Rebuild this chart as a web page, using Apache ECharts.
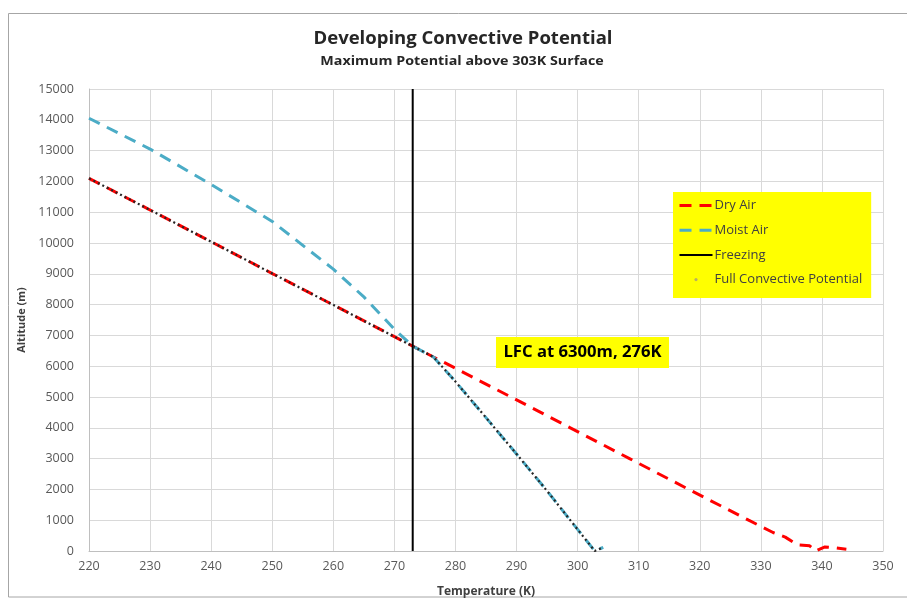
<!DOCTYPE html>
<html>
<head>
<meta charset="utf-8">
<script src="https://cdn.jsdelivr.net/npm/echarts@6/dist/echarts.min.js"></script>
<style>
  html, body { margin: 0; padding: 0; background: #ffffff; }
  #chart { width: 907px; height: 599px; }
</style>
</head>
<body>
<div id="chart"></div>
<script>
// Dry adiabat from the surface parcel (temperature in K, altitude in m)
const dryTemp = [220.0, 230.7, 240.4, 250.1, 259.9, 269.6, 273.0, 276.4, 289.1, 298.8, 308.5, 318.2, 328.0, 332.0, 334.0, 336.0, 338.0, 339.0, 340.5, 342.0, 344.0];
const dryAlt  = [12100, 11000, 10000, 9000, 8000, 7000, 6650, 6300, 5000, 4000, 3000, 2000, 1000, 600, 450, 200, 170, 0, 130, 110, 60];

// Moist (saturated) adiabat
const moistTemp = [220, 230, 240, 250, 260, 265, 270, 273, 276.4, 280, 285, 290, 295, 300, 302.8, 304.2];
const moistAlt  = [14050, 13050, 11900, 10700, 9150, 8250, 7200, 6650, 6300, 5500, 4330, 3150, 1950, 700, 0, 120];

// Freezing level marker
const freezeTemp = [273, 273];
const freezeAlt  = [0, 15000];

// Full convective path: moist below the LFC, dry above it
const fullTemp = [220.0, 230.7, 240.4, 250.1, 259.9, 269.6, 273.0, 276.4, 280, 285, 290, 295, 300, 302.8, 304.2];
const fullAlt  = [12100, 11000, 10000, 9000, 8000, 7000, 6650, 6300, 5500, 4330, 3150, 1950, 700, 0, 120];

// Axis ticks
const xTicks = { min: 220, max: 350, step: 10 };
const yTicks = { min: 0, max: 15000, step: 1000 };

const seriesNames = ['Dry Air', 'Moist Air', 'Freezing', 'Full Convective Potential'];

const pairs = (xs, ys) => xs.map((x, i) => [x, ys[i]]);

const labelFont = '"Open Sans", "Noto Sans", sans-serif';

const chart = echarts.init(document.getElementById('chart'), null, { renderer: 'canvas' });

chart.setOption({
  animation: false,
  backgroundColor: '#ffffff',
  grid: { left: 89, right: 24, top: 89, bottom: 48, containLabel: false, outerBoundsMode: 'none' },
  xAxis: {
    type: 'value',
    min: xTicks.min, max: xTicks.max, interval: xTicks.step,
    name: 'Temperature (K)',
    nameLocation: 'middle',
    nameGap: 35,
    nameTextStyle: { fontFamily: labelFont, fontWeight: 'bold', fontSize: 12, color: '#404040' },
    axisLine: { show: true, lineStyle: { color: '#bfbfbf', width: 1 } },
    axisTick: { show: false },
    axisLabel: { fontFamily: labelFont, fontSize: 12.5, color: '#595959', margin: 9, formatter: v => String(v) },
    splitLine: { show: true, lineStyle: { color: '#d9d9d9', width: 1 } }
  },
  yAxis: {
    type: 'value',
    min: yTicks.min, max: yTicks.max, interval: yTicks.step,
    name: 'Altitude (m)',
    nameLocation: 'middle',
    nameGap: 62,
    nameRotate: 90,
    nameTextStyle: { fontFamily: labelFont, fontWeight: 'bold', fontSize: 11, color: '#404040' },
    axisLine: { show: true, lineStyle: { color: '#bfbfbf', width: 1 } },
    axisTick: { show: false },
    axisLabel: { fontFamily: labelFont, fontSize: 12.5, color: '#595959', margin: 15, formatter: v => String(v) },
    splitLine: { show: true, lineStyle: { color: '#d9d9d9', width: 1 } }
  },
  legend: {
    orient: 'vertical',
    left: 673, top: 192,
    padding: [6, 9, 11, 5],
    backgroundColor: '#ffff00',
    itemWidth: 33, itemHeight: 4, itemGap: 9.7,
    textStyle: { fontFamily: labelFont, fontSize: 13, color: '#404040', lineHeight: 15, padding: [0, 0, 0, -3] },
    data: [
      { name: seriesNames[0], itemStyle: { opacity: 0 }, lineStyle: { width: 3 } },
      { name: seriesNames[1], itemStyle: { opacity: 0 }, lineStyle: { width: 3 } },
      { name: seriesNames[2], itemStyle: { opacity: 0 }, lineStyle: { width: 2 } },
      { name: seriesNames[3], itemStyle: { color: '#b8b060' }, lineStyle: { opacity: 0 } }
    ]
  },
  series: [
    {
      name: seriesNames[0], type: 'line', data: pairs(dryTemp, dryAlt),
      symbol: 'none', color: '#ff0000',
      lineStyle: { color: '#ff0000', width: 3, type: [12, 8] }, z: 2
    },
    {
      name: seriesNames[1], type: 'line', data: pairs(moistTemp, moistAlt),
      symbol: 'none', color: '#4bacc6',
      lineStyle: { color: '#4bacc6', width: 3, type: [12, 8] }, z: 3
    },
    {
      name: seriesNames[2], type: 'line', data: pairs(freezeTemp, freezeAlt),
      symbol: 'none', color: '#000000',
      lineStyle: { color: '#000000', width: 2 }, z: 4
    },
    {
      name: seriesNames[3], type: 'line', data: pairs(fullTemp, fullAlt),
      symbol: 'none', color: '#262626',
      lineStyle: { color: '#262626', width: 2.2, type: [2, 3] }, z: 5
    }
  ],
  graphic: [
    {
      type: 'rect', silent: true, z: -10,
      shape: { x: 8.5, y: 13.5, width: 920, height: 583.5 },
      style: { fill: 'none', stroke: '#a6a6a6', lineWidth: 1 }
    },
    {
      type: 'text', x: 463, y: 38.5, silent: true,
      style: { text: 'Developing Convective Potential', fontFamily: labelFont, fontWeight: 'bold', fontSize: 18.5,
               fill: '#262626', align: 'center', verticalAlign: 'middle' }
    },
    {
      type: 'text', x: 462, y: 61, scaleX: 1.1, silent: true,
      style: { text: 'Maximum Potential above 303K Surface', fontFamily: labelFont, fontWeight: 'bold', fontSize: 13,
               fill: '#262626', align: 'center', verticalAlign: 'middle' }
    },
    // LFC annotation box, drawn above the grid lines
    {
      type: 'rect', silent: true, z: 100,
      shape: { x: 496, y: 337, width: 173, height: 31 },
      style: { fill: '#ffff00' }
    },
    {
      type: 'text', x: 582.5, y: 352.5, scaleX: 1.04, silent: true, z: 101,
      style: { text: 'LFC at 6300m, 276K', fontFamily: labelFont, fontWeight: 'bold', fontSize: 16,
               fill: '#000000', align: 'center', verticalAlign: 'middle' }
    }
  ]
});
</script>
</body>
</html>
